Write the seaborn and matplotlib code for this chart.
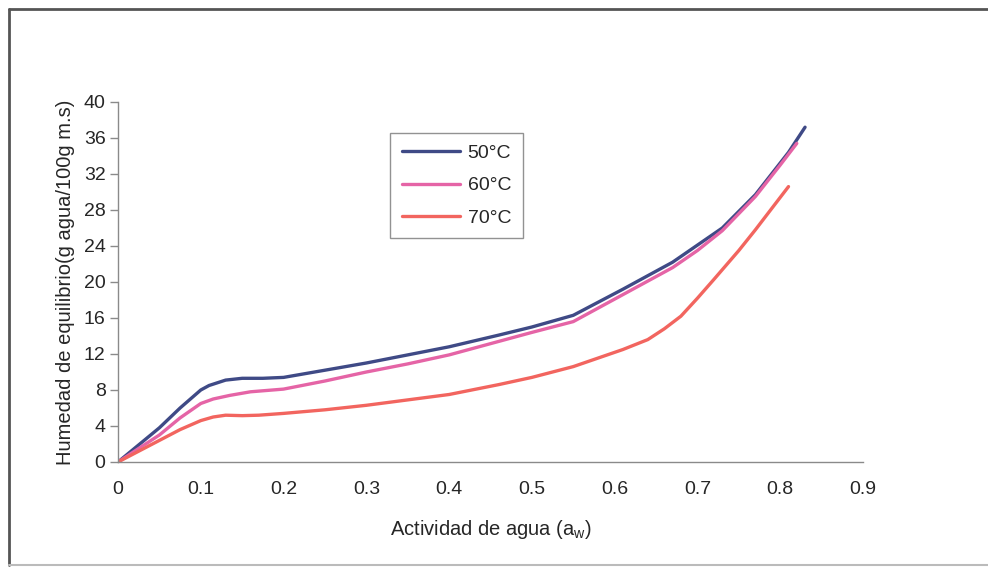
import matplotlib
matplotlib.use("Agg")
import matplotlib.pyplot as plt
import seaborn as sns
import pandas as pd
from matplotlib.lines import Line2D

# ---- data ----
aw_50 = [0, 0.05, 0.075, 0.1, 0.11, 0.13, 0.15, 0.175, 0.2, 0.25, 0.3, 0.35, 0.4, 0.46, 0.5, 0.55,
         0.61, 0.67, 0.7, 0.73, 0.77, 0.81, 0.83]
m_50 = [0, 3.8, 6.0, 8.0, 8.5, 9.1, 9.3, 9.3, 9.4, 10.2, 11.0, 11.9, 12.8, 14.1, 15.0, 16.3,
        19.2, 22.2, 24.1, 26.0, 29.7, 34.4, 37.2]

aw_60 = [0, 0.05, 0.075, 0.1, 0.115, 0.135, 0.16, 0.2, 0.25, 0.3, 0.35, 0.4, 0.46, 0.5, 0.55,
         0.61, 0.67, 0.7, 0.73, 0.77, 0.8, 0.82]
m_60 = [0, 3.0, 4.9, 6.5, 7.0, 7.4, 7.8, 8.1, 9.0, 10.0, 10.9, 11.9, 13.4, 14.4, 15.6,
        18.6, 21.6, 23.5, 25.7, 29.5, 33.0, 35.4]

aw_70 = [0, 0.05, 0.075, 0.1, 0.115, 0.13, 0.15, 0.17, 0.2, 0.25, 0.3, 0.35, 0.4, 0.46, 0.5, 0.55,
         0.61, 0.64, 0.66, 0.68, 0.7, 0.72, 0.75, 0.77, 0.79, 0.81]
m_70 = [0, 2.4, 3.6, 4.6, 5.0, 5.2, 5.15, 5.2, 5.4, 5.8, 6.3, 6.9, 7.5, 8.6, 9.4, 10.6,
        12.5, 13.6, 14.8, 16.2, 18.2, 20.3, 23.5, 25.8, 28.2, 30.6]

series_labels = ["50°C", "60°C", "70°C"]
x_ticks = [0, 0.1, 0.2, 0.3, 0.4, 0.5, 0.6, 0.7, 0.8, 0.9]
x_tick_labels = ["0", "0.1", "0.2", "0.3", "0.4", "0.5", "0.6", "0.7", "0.8", "0.9"]
y_ticks = [0, 4, 8, 12, 16, 20, 24, 28, 32, 36, 40]

colors = {"50°C": "#3f4a86", "60°C": "#e564a6", "70°C": "#f2655f"}

frames = []
for lab, xs, ys in zip(series_labels, [aw_50, aw_60, aw_70], [m_50, m_60, m_70]):
    frames.append(pd.DataFrame({"aw": xs, "M": ys, "Temp": lab}))
df = pd.concat(frames, ignore_index=True)

sns.set_theme(style="white")
plt.rcParams["font.family"] = ["Liberation Sans", "DejaVu Sans"]

fig = plt.figure(figsize=(9.88, 5.67), dpi=100)
fig.patch.set_facecolor("white")
ax = fig.add_axes([118/988, 1-462/567, (863-118)/988, (462-102)/567])

sns.lineplot(data=df, x="aw", y="M", hue="Temp", palette=colors, sort=False,
             estimator=None, linewidth=2.4, ax=ax, legend=False)
for ln in ax.lines:
    ln.set_solid_joinstyle("round")
    ln.set_solid_capstyle("round")

ax.set_xlim(0, 0.9)
ax.set_ylim(0, 40)
ax.set_xticks(x_ticks)
ax.set_xticklabels(x_tick_labels)
ax.set_yticks(y_ticks)

for s in ["top", "right"]:
    ax.spines[s].set_visible(False)
for s in ["left", "bottom"]:
    ax.spines[s].set_color("#8a8a8a")
    ax.spines[s].set_linewidth(1.0)

txt_col = "#262626"
ax.tick_params(axis="x", direction="in", length=5, width=1, color="#8a8a8a",
               labelsize=14, labelcolor=txt_col, pad=14)
ax.tick_params(axis="y", direction="out", length=6, width=1, color="#8a8a8a",
               labelsize=14, labelcolor=txt_col, pad=3, left=True)

ax.set_xlabel("Actividad de agua (a$_\\mathregular{w}$)", fontsize=14.5, color=txt_col, labelpad=14)
ax.set_ylabel("Humedad de equilibrio(g agua/100g m.s)", fontsize=14.5, color=txt_col, labelpad=6)

handles = [Line2D([0], [0], color=colors[l], lw=2.4) for l in series_labels]
leg = ax.legend(handles, series_labels, loc="upper left", bbox_to_anchor=(0.365, 0.914),
                borderaxespad=0, frameon=True, fancybox=False, fontsize=14,
                handlelength=3.0, handletextpad=0.4, labelspacing=0.75,
                borderpad=0.6)
leg.get_frame().set_edgecolor("#777777")
leg.get_frame().set_linewidth(1.0)
for t in leg.get_texts():
    t.set_color(txt_col)

# outer frame of the figure (left & top dark, bottom faint)
fx0, fy_top, fy_bot = 9/988, 1-9/567, 1-565/567
fig.add_artist(Line2D([fx0, 1.0], [fy_top, fy_top], transform=fig.transFigure,
                      color="#555555", lw=2.0))
fig.add_artist(Line2D([fx0, fx0], [fy_bot, fy_top], transform=fig.transFigure,
                      color="#555555", lw=2.0))
fig.add_artist(Line2D([fx0, 1.0], [fy_bot, fy_bot], transform=fig.transFigure,
                      color="#bbbbbb", lw=1.5))

fig.savefig("out.png", dpi=100, facecolor="white")
